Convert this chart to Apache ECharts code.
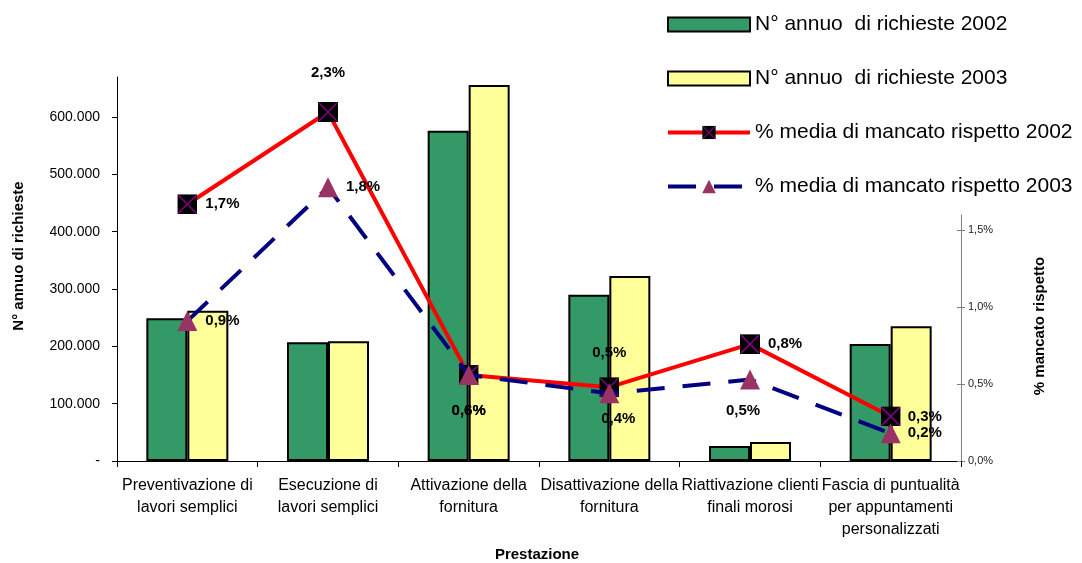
<!DOCTYPE html>
<html>
<head>
<meta charset="utf-8">
<script src="https://cdn.jsdelivr.net/npm/echarts@6/dist/echarts.min.js"></script>
<style>
html,body{margin:0;padding:0;background:#fff;}
#c{width:1082px;height:563px;}
</style>
</head>
<body>
<div id="c"></div>
<script>
const categories = [
  "Preventivazione di\nlavori semplici",
  "Esecuzione di\nlavori semplici",
  "Attivazione della\nfornitura",
  "Disattivazione della\nfornitura",
  "Riattivazione clienti\nfinali morosi",
  "Fascia di puntualità\nper appuntamenti\npersonalizzati"
];
const seriesNames = [
  "N° annuo  di richieste 2002",
  "N° annuo  di richieste 2003",
  "% media di mancato rispetto 2002",
  "% media di mancato rispetto 2003"
];
const richieste2002 = [249000, 207000, 576000, 290000, 26000, 204000];
const richieste2003 = [262000, 209000, 656000, 323000, 33000, 235000];
const mancato2002 = [1.67, 2.27, 0.56, 0.48, 0.76, 0.29];
const mancato2003 = [0.91, 1.78, 0.56, 0.44, 0.53, 0.18];
const leftTicks = [0, 100000, 200000, 300000, 400000, 500000, 600000];
const rightTicks = [0, 0.5, 1.0, 1.5];

const FONT = "'Liberation Sans', Arial, sans-serif";

function fmtThousands(v) {
  if (v === 0) return "-";
  const s = String(Math.round(v));
  return s.replace(/\B(?=(\d{3})+(?!\d))/g, ".");
}
function fmtPct(v) {
  return v.toFixed(1).replace(".", ",") + "%";
}

const squareX = 'image://data:image/svg+xml,' + encodeURIComponent(
  "<svg xmlns='http://www.w3.org/2000/svg' width='20' height='20' viewBox='0 0 20 20'>" +
  "<rect x='0' y='0' width='20' height='20' fill='#000000'/>" +
  "<path d='M1 1L19 19M19 1L1 19' stroke='#800080' stroke-width='1.6' fill='none'/></svg>"
);
// legend rectangle icon: 14px tall box inside a 17px tall item
const barIcon = "path://M0,0M0,1.5L82,1.5L82,15.5L0,15.5Z M82,17";

// label placement (style only)
const lab2002 = [
  {position: "right", distance: 8},
  {position: "top", distance: 22},
  {position: "bottom", distance: 18},
  {position: "top", distance: 17},
  {position: "right", distance: 8},
  {position: "right", distance: 7}
];
const lab2003 = [
  {position: "right", distance: 8},
  {position: "right", distance: 8},
  {position: "bottom", distance: 18},
  {position: "bottom", distance: 8, offset: [9, 0]},
  {position: "bottom", distance: 14, offset: [-7, 0]},
  {position: "right", distance: 7}
];

const pctLabel = {
  show: true,
  color: "#000",
  fontFamily: FONT,
  fontWeight: "bold",
  fontSize: 15,
  formatter: p => fmtPct(p.value)
};

const chart = echarts.init(document.getElementById("c"), null, {renderer: "canvas"});
chart.setOption({
  animation: false,
  backgroundColor: "#ffffff",
  legend: {
    orient: "vertical",
    left: 666,
    top: 14,
    padding: 0,
    itemWidth: 82,
    itemHeight: 17,
    itemGap: 33,
    textStyle: {fontFamily: FONT, fontSize: 21, color: "#000"},
    data: [
      {name: seriesNames[0], icon: barIcon},
      {name: seriesNames[1], icon: barIcon},
      {name: seriesNames[2], lineStyle: {width: 4}},
      {name: seriesNames[3], lineStyle: {width: 4}}
    ]
  },
  grid: [
    {left: 117, right: 121, top: 77, bottom: 102},
    {left: 117, right: 121, top: 215, bottom: 102}
  ],
  xAxis: [
    {
      gridIndex: 0,
      type: "category",
      data: categories,
      axisLine: {lineStyle: {color: "#000", width: 1}},
      axisTick: {show: true, length: 6, lineStyle: {color: "#000"}},
      axisLabel: {
        color: "#000", fontFamily: FONT, fontSize: 16, lineHeight: 22,
        margin: 14, interval: 0
      }
    },
    {
      gridIndex: 1,
      type: "category",
      data: categories,
      show: false
    }
  ],
  yAxis: [
    {
      gridIndex: 0,
      type: "value",
      position: "left",
      min: 0,
      max: 670000,
      axisLine: {show: true, lineStyle: {color: "#000", width: 1}},
      axisTick: {show: true, length: 5, lineStyle: {color: "#000"}, customValues: leftTicks},
      axisLabel: {
        color: "#000", fontFamily: FONT, fontSize: 14, margin: 17,
        customValues: leftTicks,
        formatter: v => fmtThousands(v)
      },
      splitLine: {show: false}
    },
    {
      gridIndex: 1,
      type: "value",
      position: "right",
      min: 0,
      max: 1.6,
      axisLine: {show: true, lineStyle: {color: "#808080", width: 1}},
      axisTick: {show: true, length: 4, lineStyle: {color: "#808080"}, customValues: rightTicks},
      axisLabel: {
        color: "#222", fontFamily: FONT, fontSize: 11, margin: 7,
        customValues: rightTicks,
        formatter: v => fmtPct(v)
      },
      splitLine: {show: false}
    },
    {
      gridIndex: 1,
      type: "value",
      position: "right",
      min: 0,
      max: 1.6,
      axisLine: {show: false},
      axisTick: {show: true, inside: true, length: 4, lineStyle: {color: "#808080"}, customValues: rightTicks},
      axisLabel: {show: false},
      splitLine: {show: false}
    }
  ],
  series: [
    {
      name: seriesNames[0],
      type: "bar",
      xAxisIndex: 0, yAxisIndex: 0,
      data: richieste2002,
      barWidth: 41,
      barGap: "0%",
      itemStyle: {color: "#339966", borderColor: "#000", borderWidth: 2}
    },
    {
      name: seriesNames[1],
      type: "bar",
      xAxisIndex: 0, yAxisIndex: 0,
      data: richieste2003,
      barWidth: 41,
      barGap: "0%",
      itemStyle: {color: "#FFFF99", borderColor: "#000", borderWidth: 2}
    },
    {
      name: seriesNames[2],
      type: "line",
      xAxisIndex: 1, yAxisIndex: 1,
      clip: false,
      data: mancato2002.map((v, i) => ({value: v, label: lab2002[i]})),
      symbol: squareX,
      symbolSize: 20,
      lineStyle: {color: "#FF0000", width: 4},
      itemStyle: {color: "#FF0000"},
      label: pctLabel,
      z: 3
    },
    {
      name: seriesNames[3],
      type: "line",
      xAxisIndex: 1, yAxisIndex: 1,
      clip: false,
      data: mancato2003.map((v, i) => ({value: v, label: lab2003[i]})),
      symbol: "triangle",
      symbolSize: 20,
      lineStyle: {color: "#000080", width: 4, type: [28, 18]},
      itemStyle: {color: "#993366"},
      label: pctLabel,
      z: 4
    }
  ],
  graphic: [
    {
      type: "text", x: 19, y: 256, rotation: Math.PI / 2,
      style: {text: "N° annuo di richieste", fontFamily: FONT, fontSize: 15, fontWeight: "bold",
        fill: "#000", align: "center", verticalAlign: "middle"}
    },
    {
      type: "text", x: 1040, y: 326, rotation: Math.PI / 2,
      style: {text: "% mancato rispetto", fontFamily: FONT, fontSize: 15, fontWeight: "bold",
        fill: "#000", align: "center", verticalAlign: "middle"}
    },
    {
      type: "text", x: 537, y: 555,
      style: {text: "Prestazione", fontFamily: FONT, fontSize: 15, fontWeight: "bold",
        fill: "#000", align: "center", verticalAlign: "middle"}
    }
  ]
});
</script>
</body>
</html>
